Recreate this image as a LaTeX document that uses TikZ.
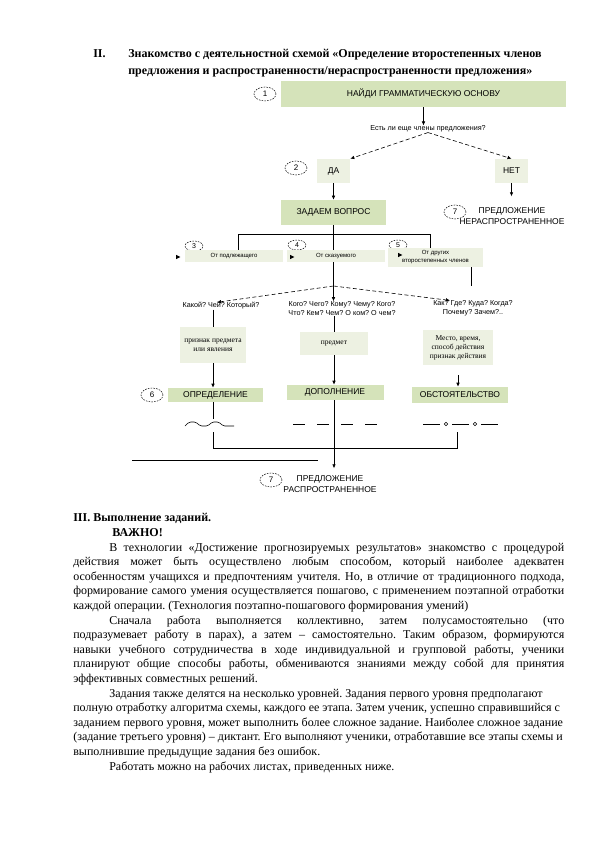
\documentclass[tikz,border=0pt]{standalone}
\usepackage{fontspec}
\setmainfont{Liberation Serif}
\setsansfont{Liberation Sans}
\usetikzlibrary{arrows.meta,shapes.geometric}
\frenchspacing
\definecolor{cstep}{RGB}{213,227,186}
\definecolor{cnote}{RGB}{237,241,226}
\tikzset{
  stepbox/.style={rectangle,fill=cstep,draw=none,inner sep=0pt,align=center,
    font=\sffamily\fontsize{8.5}{11}\selectfont},
  notebox/.style={rectangle,fill=cnote,draw=none,inner sep=0pt,align=center},
  numtag/.style={ellipse,draw,dash pattern=on 1.6pt off 1.2pt,line width=0.5pt,
    minimum width=22pt,minimum height=14pt,inner sep=0pt,
    font=\sffamily\fontsize{8}{8}\selectfont},
  numtagsm/.style={numtag,minimum width=18pt,minimum height=10pt,
    font=\sffamily\fontsize{7}{7}\selectfont},
  questtxt/.style={inner sep=0pt,align=center,font=\sffamily\fontsize{7.2}{9}\selectfont},
  capstxt/.style={inner sep=0pt,align=center,font=\sffamily\fontsize{8.5}{11}\selectfont},
  fromtxt/.style={font=\sffamily\fontsize{6}{8}\selectfont},
  desctxt/.style={font=\fontsize{7.5}{9}\selectfont},
  arr/.style={-{Latex[length=4pt,width=3.6pt]}},
  dsh/.style={dash pattern=on 4pt off 2.5pt},
  headtxt/.style={inner sep=0pt,anchor=base west,font=\bfseries\fontsize{12}{17}\selectfont},
  bodytxt/.style={inner sep=0pt,anchor=north west,text width=491pt,align=justify,
    font=\fontsize{12}{14.6}\selectfont}
}
\begin{document}
\begin{tikzpicture}[x=1pt,y=-1pt,line width=0.6pt]
  \useasboundingbox (0,0) rectangle (595,842);
  % heading of part II
  \node[headtxt] (h2num) at (93,57.5) {II.};
  \node[headtxt] (h2a) at (128,57.5) {Знакомство с деятельностной схемой «Определение второстепенных членов};
  \node[headtxt] (h2b) at (128,74.5) {предложения и распространенности/нераспространенности предложения»};
  % step 1
  \node[numtag] (n1) at (265,94) {1};
  \node[stepbox,minimum width=285pt,minimum height=26pt] (findbase) at (423.5,94) {НАЙДИ ГРАММАТИЧЕСКУЮ ОСНОВУ};
  \node[questtxt] (anymore) at (428,129) {Есть ли еще члены предложения?};
  \draw[arr] (findbase.south) -- (findbase.south |- anymore.north);
  % step 2
  \node[numtag] (n2) at (296,168) {2};
  \node[notebox,capstxt,minimum width=33pt,minimum height=24pt] (yes) at (333.5,171) {ДА};
  \node[notebox,capstxt,minimum width=33pt,minimum height=24pt] (no) at (511.5,171) {НЕТ};
  \draw[arr,dsh] (anymore.south) -- (yes.north east);
  \draw[arr,dsh] (anymore.south) -- (no.north);
  \draw[arr] (no.south) -- ++(0,13);
  \node[numtag] (n7a) at (455,212) {7};
  \node[capstxt] (simple) at (512,216) {ПРЕДЛОЖЕНИЕ\\НЕРАСПРОСТРАНЕННОЕ};
  \node[stepbox,minimum width=105pt,minimum height=25pt] (askq) at (333.5,212.5) {ЗАДАЕМ ВОПРОС};
  \draw[arr] (yes) -- (askq);
  % steps 3--5
  \node[numtagsm] (n3) at (194,246) {3};
  \node[numtagsm] (n4) at (297,245) {4};
  \node[numtagsm] (n5) at (398,245) {5};
  \node[notebox,fromtxt,minimum width=98pt,minimum height=12pt] (fromsubj) at (234,256) {От подлежащего};
  \node[notebox,fromtxt,minimum width=98pt,minimum height=12pt] (frompred) at (336,256) {От сказуемого};
  \node[notebox,fromtxt,minimum width=95pt,minimum height=19pt] (fromsec) at (435.5,257.5) {От других\\второстепенных членов};
  \foreach \x/\y in {178/257,292/257,400/255}
    \fill (\x-2,\y-2.2) -- (\x+2.4,\y) -- (\x-2,\y+2.2) -- cycle;
  \draw (askq.south) -- (askq.south |- frompred.north);
  \draw ([xshift=4pt]fromsubj.north) -- ++(0,-15) -| ([xshift=-5.5pt]fromsec.north);
  % questions
  \coordinate (fork) at (333.5,286);
  \node[questtxt] (qattr) at (221,306) {Какой? Чей? Который?};
  \node[questtxt] (qobj) at (342,308.5) {Кого? Чего? Кому? Чему? Кого?\\Что? Кем? Чем? О ком? О чем?};
  \node[questtxt] (qadv) at (473,308.5) {Как? Где? Куда? Когда?\\Почему? Зачем?..};
  \draw[arr] (askq.south |- frompred.south) -- (askq.south |- qobj.north);
  \draw[arr,dsh] (fork) -- ([xshift=-4pt]qattr.north);
  \draw[arr,dsh] (fork) -- ([xshift=-23pt]qadv.north);
  \draw ([xshift=36pt]fromsec.south) -- ++(0,19);
  % meanings
  \node[notebox,desctxt,minimum width=66pt,minimum height=36pt] (attrnote) at (213,345) {признак предмета\\или явления};
  \node[notebox,desctxt,minimum width=68pt,minimum height=23pt] (objnote) at (334,343.5) {предмет};
  \node[notebox,desctxt,minimum width=70pt,minimum height=35pt] (advnote) at (458,347.5) {Место, время,\\способ действия\\признак действия};
  \draw (qattr.south -| attrnote.north) -- (attrnote.north);
  \draw (qobj.south -| objnote.north) -- (objnote.north);
  % step 6
  \node[numtag] (n6) at (152,395) {6};
  \node[stepbox,minimum width=95pt,minimum height=14pt] (attrib) at (215.5,395) {ОПРЕДЕЛЕНИЕ};
  \node[stepbox,minimum width=97pt,minimum height=15pt] (object) at (335,392.5) {ДОПОЛНЕНИЕ};
  \node[stepbox,minimum width=96pt,minimum height=16pt] (adverb) at (460,395) {ОБСТОЯТЕЛЬСТВО};
  \draw[arr] (attrnote.south) -- (attrnote.south |- attrib.north);
  \draw[arr] (objnote.south) -- (objnote.south |- object.north);
  \draw[arr] ([yshift=-10pt]advnote.south) -- (advnote.south |- adverb.north);
  % underline marks
  \draw[rounded corners=1.8pt] (185,426) -- (189,422) -- (196,422) -- (200,426) -- (208,426)
    -- (212,422) -- (219,422) -- (223,426) -- (234,426);
  \draw[dash pattern=on 12pt off 12pt] (293,424) -- (377,424);
  \draw (423,424) -- (440,424) (452,424) -- (469,424) (481,424) -- (498,424);
  \foreach \x in {446,475}
    \draw (\x,424) circle (1.7pt);
  \draw (attrnote.south |- attrib.south) -- ++(0,17);
  \coordinate (lowl) at (213,432);
  \coordinate (lowr) at (457,432);
  \draw (lowl) -- ++(0,16) -| (lowr);
  \draw[arr] (object.south -| objnote.south) -- ++(0,68);
  \draw (132,460) -- (318,460);
  \node[numtag] (n7b) at (271,480) {7};
  \node[capstxt] (spread) at (330,484) {ПРЕДЛОЖЕНИЕ\\РАСПРОСТРАНЕННОЕ};
  % part III
  \node[bodytxt] (part3) at (73,511.3) {\tolerance=10000\hyphenpenalty=10000
    \setlength{\parindent}{36pt}\noindent\strut\textbf{III. Выполнение заданий.}\par
    \noindent\hspace*{39pt}\textbf{ВАЖНО!}\par
    В технологии «Достижение прогнозируемых результатов» знакомство с процедурой\linebreak
    действия может быть осуществлено любым способом, который наиболее адекватен\linebreak
    особенностям учащихся и предпочтениям учителя. Но, в отличие от традиционного подхода,\linebreak
    формирование самого умения осуществляется пошагово, с применением поэтапной отработки\linebreak
    каждой операции. (Технология поэтапно-пошагового формирования умений)\par
    Сначала работа выполняется коллективно, затем полусамостоятельно (что\linebreak
    подразумевает работу в парах), а затем – самостоятельно. Таким образом, формируются\linebreak
    навыки учебного сотрудничества в ходе индивидуальной и групповой работы, ученики\linebreak
    планируют общие способы работы, обмениваются знаниями между собой для принятия\linebreak
    эффективных совместных решений.\par
    Задания также делятся на несколько уровней. Задания первого уровня предполагают\newline
    полную отработку алгоритма схемы, каждого ее этапа. Затем ученик, успешно справившийся с\newline
    заданием первого уровня, может выполнить более сложное задание. Наиболее сложное задание\newline
    (задание третьего уровня) – диктант. Его выполняют ученики, отработавшие все этапы схемы и\newline
    выполнившие предыдущие задания без ошибок.\par
    Работать можно на рабочих листах, приведенных ниже.};
\end{tikzpicture}
\end{document}
